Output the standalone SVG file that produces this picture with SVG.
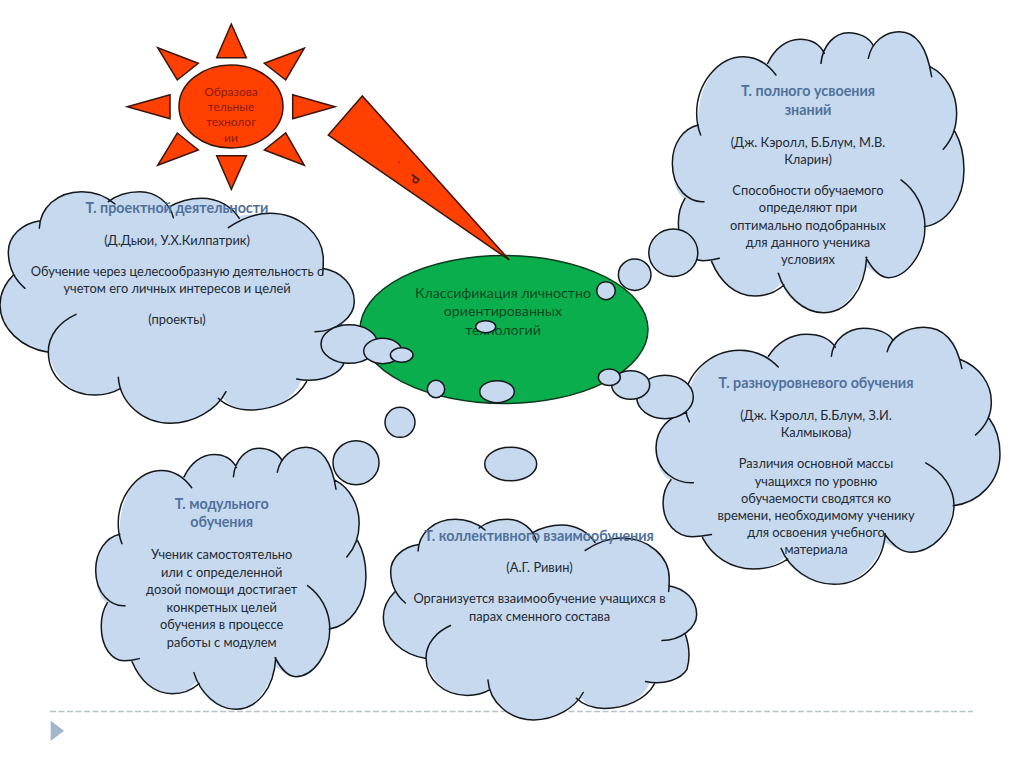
<svg xmlns="http://www.w3.org/2000/svg" xmlns:xlink="http://www.w3.org/1999/xlink" width="1024" height="768" viewBox="0 0 1024 768">
<style>
text{font-family:"Lato","Noto Sans","Liberation Sans",sans-serif;text-anchor:middle;font-size:12.85px;fill:#1f2a33}
.t{font-weight:700;font-size:14.3px;fill:#4f719c}
.s{fill:#8c1c10;font-size:12px}
.c{fill:#0a4a22;font-size:14.2px}
.body{fill:#c6d9ef;stroke:none}
.arc{fill:none;stroke:#14181c;stroke-width:1.5;vector-effect:non-scaling-stroke;stroke-linecap:round}
.b{fill:#c6d9ef;stroke:#14181c;stroke-width:1.5}
.red{fill:#ff4000;stroke:#3c1408;stroke-width:1.5}
</style>
<defs>
<g id="cloudA">
<path class="body" d="M175,315 C170,190 235,110 310,110 C335,110 365,120 383,130 C405,85 440,58 480,58 C510,58 535,75 548,95 C565,60 590,38 625,38 C655,38 685,55 700,78 C715,50 745,35 778,35 C825,35 860,75 872,140 C920,165 950,220 950,280 C950,300 948,320 945,335 C962,365 972,400 972,450 C972,540 920,610 853,620 C850,700 800,773 745,773 C720,773 695,750 678,740 C655,815 610,878 550,878 C490,878 445,840 425,790 C400,815 380,828 345,828 C285,828 240,785 215,722 C205,722 198,722 190,722 C150,722 115,680 115,610 C115,580 122,555 135,535 C110,525 97,480 97,430 C97,370 130,325 175,315 Z"/>
<path class="arc" d="M182,345 C172,320 170,300 170,280 C170,190 235,110 310,110 C350,110 385,135 408,165 M383,130 C405,85 440,58 480,58 C515,58 540,75 553,100 M543,130 C548,75 585,38 625,38 C660,38 690,55 700,78 M685,115 C695,65 735,35 778,35 C825,35 860,75 875,170 M870,140 C920,165 950,220 950,280 C950,320 935,360 910,388 M945,335 C962,365 972,400 972,450 C972,540 920,610 853,620 M783,480 C825,510 855,560 855,620 C855,700 800,773 745,773 C720,773 695,745 678,712 M680,712 C675,810 620,878 550,878 C490,878 435,825 415,760 M432,795 C410,815 380,828 345,828 C285,828 240,785 215,725 M238,715 C220,720 205,722 190,722 C150,722 115,680 115,610 C115,580 122,555 135,535 M192,545 C150,548 97,510 97,430 C97,370 130,325 175,315"/>
</g>
<g id="cloudB">
<path class="body" d="M120,122 C125,80 175,35 245,35 C280,35 310,45 335,62 C360,45 390,35 420,35 C455,35 490,55 505,82 C535,65 570,55 605,55 C650,55 695,80 712,108 C740,105 775,100 810,100 C900,100 970,165 970,240 C970,250 970,258 968,265 C1025,275 1063,315 1063,365 C1063,395 1045,420 1025,435 C1040,480 1040,520 1030,555 C1010,590 950,610 905,600 C880,660 820,690 750,690 C710,690 685,675 665,650 C630,700 570,730 510,730 C440,730 385,690 362,625 C340,638 310,645 285,645 C215,645 160,595 145,517 C65,505 0,445 0,375 C0,340 15,310 40,285 C30,265 25,240 25,215 C25,170 65,130 120,122 Z"/>
<path class="arc" d="M75,325 C40,295 25,255 25,215 C25,170 65,130 120,122 M118,145 C120,85 170,35 245,35 C285,35 320,50 345,72 M325,65 C350,45 385,35 420,35 C470,35 510,70 520,113 M505,82 C535,65 570,55 605,55 C655,55 695,80 718,115 M685,143 C725,115 770,100 810,100 C900,100 970,165 970,240 C970,255 970,265 968,285 M968,265 C1025,275 1063,315 1063,365 C1063,410 1010,455 945,455 M1025,435 C1040,480 1040,520 1030,555 C1010,590 950,610 890,597 M920,605 C890,660 820,690 750,690 C710,690 675,675 655,655 M678,635 C650,690 580,730 510,730 C430,730 360,670 355,592 M362,625 C340,638 310,645 285,645 C205,645 145,590 145,515 C145,465 180,425 228,403 M145,517 C65,505 0,445 0,375 C0,340 15,310 40,285"/>
</g>
</defs>
<rect width="1024" height="768" fill="#fff"/>
<g id="footer">
<line x1="50" y1="711.5" x2="973" y2="711.5" stroke="#b9c3ca" stroke-width="1.3" stroke-dasharray="6 2.5"/>
<polygon points="50.7,720.7 50.7,741 64,730.7" fill="#9fb6cc"/>
</g>
<g id="sun">
<polygon class="red" points="231.3,24 216.7,57.7 246.3,57.7"/>
<polygon class="red" points="157.7,47.7 198.3,63.3 177.3,80"/>
<polygon class="red" points="304.3,48.3 264.3,63.3 285.7,80"/>
<polygon class="red" points="335,106.7 292.7,94.7 292.7,118.7"/>
<polygon class="red" points="127.3,106.7 170,94.7 170,118.7"/>
<polygon class="red" points="231.3,189.3 216.7,155.7 246.3,155.7"/>
<polygon class="red" points="157.7,165.3 198.3,150 177.3,133"/>
<polygon class="red" points="304.3,165.3 264.3,150 285.7,133"/>
<ellipse class="red" cx="231" cy="106.5" rx="52" ry="41.5"/>
<text class="s" x="231" y="96">Образова</text>
<text class="s" x="231" y="111">тельные</text>
<text class="s" x="231" y="126">технолог</text>
<text class="s" x="231" y="142">ии</text>
</g>
<g id="cloud-project">
<use href="#cloudB" transform="matrix(.3333 0 0 .3333 0 180)"/>
<text class="t" x="177" y="213">Т. проектной деятельности</text>
<text x="177" y="245">(Д.Дьюи, У.Х.Килпатрик)</text>
<text x="177" y="276">Обучение через целесообразную деятельность с</text>
<text x="177" y="293">учетом его личных интересов и целей</text>
<text x="177" y="324">(проекты)</text>
</g>
<g id="cloud-full">
<use href="#cloudA" transform="matrix(.3333 0 0 .3333 640 20)"/>
<text class="t" x="808" y="96">Т. полного усвоения</text>
<text class="t" x="808" y="115">знаний</text>
<text x="808" y="147">(Дж. Кэролл, Б.Блум, М.В.</text>
<text x="808" y="164">Кларин)</text>
<text x="808" y="195">Способности обучаемого</text>
<text x="808" y="212">определяют при</text>
<text x="808" y="230">оптимально подобранных</text>
<text x="808" y="247">для данного ученика</text>
<text x="808" y="264">условиях</text>
</g>
<g id="cloud-level">
<use href="#cloudA" transform="matrix(.3931 0 0 .3049 617.9 316.6)"/>
<text class="t" x="816" y="388">Т. разноуровневого обучения</text>
<text x="816" y="420">(Дж. Кэролл, Б.Блум, З.И.</text>
<text x="816" y="437">Калмыкова)</text>
<text x="816" y="468">Различия основной массы</text>
<text x="816" y="486">учащихся по уровню</text>
<text x="816" y="503">обучаемости сводятся ко</text>
<text x="816" y="520">времени, необходимому ученику</text>
<text x="816" y="537">для освоения учебного</text>
<text x="816" y="554">материала</text>
</g>
<g id="cloud-module">
<use href="#cloudA" transform="matrix(.3089 0 0 .3108 65.7 436.4)"/>
<text class="t" x="221.7" y="509">Т. модульного</text>
<text class="t" x="221.7" y="527">обучения</text>
<text x="221.7" y="559">Ученик самостоятельно</text>
<text x="221.7" y="577">или с определенной</text>
<text x="221.7" y="594">дозой помощи достигает</text>
<text x="221.7" y="612">конкретных целей</text>
<text x="221.7" y="629">обучения в процессе</text>
<text x="221.7" y="647">работы с модулем</text>
</g>
<g id="cloud-collective">
<use href="#cloudB" transform="matrix(.2948 0 0 .2887 383.3 509.2)"/>
<text class="t" x="539" y="541">Т. коллективного взаимообучения</text>
<text x="539.5" y="572">(А.Г. Ривин)</text>
<text x="539.5" y="603">Организуется взаимообучение учащихся в</text>
<text x="539.5" y="621">парах сменного состава</text>
</g>
<g id="center">
<ellipse cx="504" cy="329.5" rx="144" ry="74" fill="#0aae4d" stroke="#0b3a1e" stroke-width="1.5"/>
<text class="c" x="503" y="298">Классификация личностно</text>
<text class="c" x="503" y="316">ориентированных</text>
<text class="c" x="503" y="335">технологий</text>
</g>
<g id="wedge">
<polygon class="red" points="362.3,96 328.3,135 509.3,260"/>
<text transform="translate(414 179) rotate(125)" y="4.5" style="fill:#5a1a10;font-size:13px;font-weight:700">Р</text>
<text x="399" y="163" style="fill:#5a1a10;font-size:11px">.</text>
</g>
<g id="connectors">
<ellipse class="b" cx="349.3" cy="344" rx="28.3" ry="19.3"/>
<ellipse class="b" cx="382.7" cy="351" rx="19" ry="12.7"/>
<ellipse class="b" cx="401.7" cy="355" rx="11.3" ry="7.3"/>
<ellipse class="b" cx="673.3" cy="252.7" rx="24.5" ry="23.7"/>
<ellipse class="b" cx="634.7" cy="274.7" rx="16.3" ry="15.7"/>
<ellipse class="b" cx="606" cy="290.7" rx="9.3" ry="9"/>
<ellipse class="b" cx="665" cy="397" rx="28.3" ry="21.7"/>
<ellipse class="b" cx="630.7" cy="385" rx="19" ry="14.3"/>
<ellipse class="b" cx="609.3" cy="377.3" rx="11" ry="8.3"/>
<ellipse class="b" cx="485.7" cy="326.7" rx="10" ry="6"/>
<ellipse class="b" cx="497" cy="391.7" rx="17.3" ry="11"/>
<ellipse class="b" cx="510.7" cy="464" rx="26" ry="16.7"/>
<ellipse class="b" cx="436" cy="389" rx="8.7" ry="8.7"/>
<ellipse class="b" cx="400" cy="422.3" rx="15" ry="15"/>
<ellipse class="b" cx="356" cy="462.7" rx="23" ry="22"/>
</g>
</svg>
